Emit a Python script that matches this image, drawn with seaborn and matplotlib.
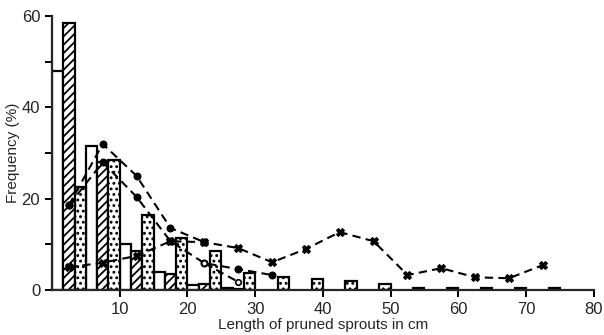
import matplotlib
matplotlib.use("Agg")
from matplotlib import pyplot as plt
import pandas as pd
import numpy as np
import seaborn as sns

# bin centres (5 cm classes)
bins = [2.5, 7.5, 12.5, 17.5, 22.5, 27.5, 32.5, 37.5, 42.5, 47.5, 52.5, 57.5, 62.5, 67.5, 72.5]
white_bars = [48, 31.5, 10, 4, 1.2, 0.5, 0, 0, 0, 0, 0, 0, 0, 0, 0]
hatched_bars = [58.5, 28, 8.5, 3.5, 1.3, 0.3, 0, 0, 0, 0, 0, 0, 0, 0, 0]
dotted_bars = [22.5, 28.5, 16.5, 11.5, 8.5, 3.8, 2.8, 2.4, 2.0, 1.4, 0.5, 0.5, 0.4, 0.4, 0.4]

line_a_x = [2.5, 7.5, 12.5, 17.5, 22.5]
line_a_y = [18.6, 32, 25, 13.6, 10.5]
line_b_x = [2.5, 7.5, 12.5, 17.5, 22.5, 27.5, 32.5]
line_b_y = [18.6, 28, 20.4, 10.7, 5.9, 4.6, 3.3]
line_c_x = bins
line_c_y = [5, 6, 7.5, 10.7, 10.5, 9.2, 6.1, 9, 12.7, 10.7, 3.3, 4.8, 2.8, 2.6, 5.5]
line_d_x = [22.5, 27.5]
line_d_y = [5.9, 1.8]

sns.set_style("ticks")
plt.rcParams["font.family"] = ["Liberation Sans Narrow", "Liberation Sans", "DejaVu Sans"]
plt.rcParams["hatch.linewidth"] = 1.3

df = pd.DataFrame({
    "x": bins * 3,
    "freq": white_bars + hatched_bars + dotted_bars,
    "group": ["white"] * len(bins) + ["hatched"] * len(bins) + ["dotted"] * len(bins),
})

fig = plt.figure(figsize=(6.04, 3.35), dpi=100)
ax = fig.add_axes([0.086, 0.134, 0.897, 0.818])

sns.barplot(data=df, x="x", y="freq", hue="group", native_scale=True,
            palette={"white": "white", "hatched": "white", "dotted": "white"},
            edgecolor="black", linewidth=1.6, width=1.0, errorbar=None,
            legend=False, ax=ax)

n = len(bins)
for i, p in enumerate(ax.patches):
    level = i // n
    if level == 1:
        p.set_hatch("////")
    elif level == 2:
        p.set_hatch("...")
    if p.get_height() <= 0:
        p.set_visible(False)

dash = (0, (4, 2.5))
sns.lineplot(x=line_a_x, y=line_a_y, color="black", lw=1.5, marker="o", ms=5,
             mec="black", ax=ax)
ax.lines[-1].set_linestyle(dash)
sns.lineplot(x=line_b_x, y=line_b_y, color="black", lw=1.5, marker="o", ms=5,
             mec="black", ax=ax)
ax.lines[-1].set_linestyle(dash)
sns.lineplot(x=line_c_x, y=line_c_y, color="black", lw=1.5, marker="X", ms=6,
             mec="black", ax=ax)
ax.lines[-1].set_linestyle(dash)
sns.lineplot(x=line_d_x, y=line_d_y, color="black", lw=1.5, marker="o", ms=4,
             mfc="white", mec="black", mew=1.2, ax=ax)
ax.lines[-1].set_linestyle(dash)

ax.set_xlim(0, 80)
ax.set_ylim(0, 60)
ax.set_xticks([10, 20, 30, 40, 50, 60, 70, 80])
ax.set_yticks([0, 10, 20, 30, 40, 50, 60])
ax.set_yticklabels(["0", "", "20", "", "40", "", "60"])
ax.tick_params(labelsize=12, width=1.4, length=5, color="black")
for s in ["left", "bottom"]:
    ax.spines[s].set_linewidth(1.6)
sns.despine(ax=ax)
ax.set_xlabel("Length of pruned sprouts in cm", fontsize=11, labelpad=1)
ax.set_ylabel("Frequency (%)", fontsize=11, labelpad=1)

fig.savefig("out.png", dpi=100)
